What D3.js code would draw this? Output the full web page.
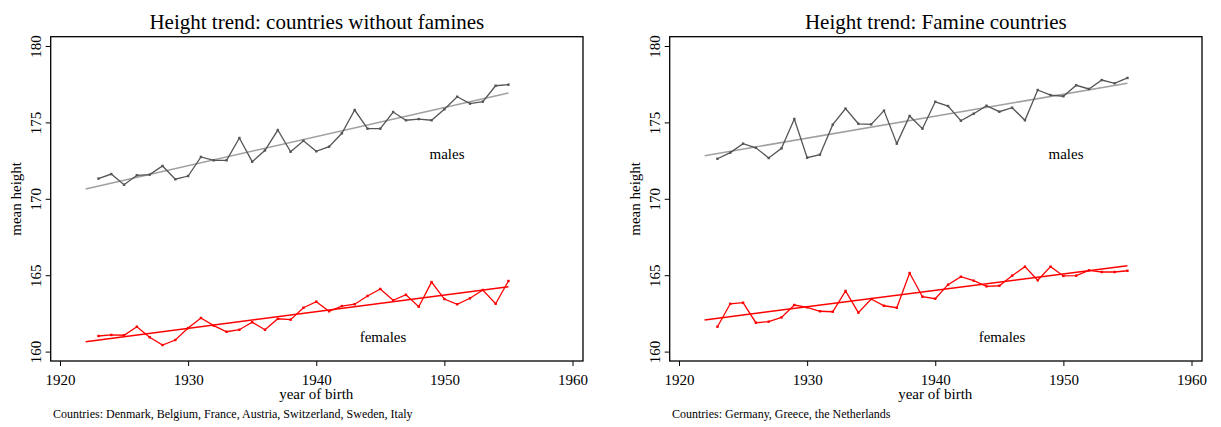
<!DOCTYPE html>
<html><head><meta charset="utf-8">
<script src="https://cdn.jsdelivr.net/npm/d3@7"></script>
<style>body{margin:0;background:#fff;} text{font-family:"Liberation Serif","Times New Roman",serif;}</style>
</head><body><svg id="c" width="1221" height="427"></svg>
<script>
const years = d3.range(1923, 1956);
const trendYears = [1922, 1955];
const xTicks = [1920, 1930, 1940, 1950, 1960];
const yTicks = [160, 165, 170, 175, 180];

const titles = ["Height trend: countries without famines", "Height trend: Famine countries"];
const captions = ["Countries: Denmark, Belgium, France, Austria, Switzerland, Sweden, Italy", "Countries: Germany, Greece, the Netherlands"];

const malesNoFamine = [171.32,171.62,170.92,171.54,171.58,172.15,171.28,171.49,172.74,172.52,172.52,173.98,172.43,173.17,174.50,173.08,173.80,173.11,173.41,174.29,175.81,174.59,174.59,175.68,175.14,175.22,175.14,175.86,176.68,176.23,176.36,177.40,177.47];
const femalesNoFamine = [161.02,161.09,161.07,161.63,160.94,160.43,160.76,161.54,162.20,161.70,161.30,161.43,161.92,161.43,162.15,162.09,162.87,163.27,162.64,162.98,163.10,163.64,164.10,163.36,163.72,162.94,164.55,163.44,163.10,163.49,164.03,163.13,164.62];
const maleTrendNoFamine = [170.64, 176.92];
const femaleTrendNoFamine = [160.65, 164.25];

const malesFamine = [172.62,173.02,173.61,173.34,172.67,173.30,175.22,172.69,172.89,174.85,175.90,174.91,174.87,175.77,173.61,175.42,174.59,176.35,176.07,175.11,175.57,176.09,175.70,175.96,175.14,177.12,176.79,176.71,177.43,177.19,177.77,177.56,177.91];
const femalesFamine = [161.63,163.13,163.20,161.89,161.96,162.24,163.05,162.90,162.64,162.61,163.97,162.55,163.44,163.00,162.87,165.14,163.59,163.46,164.38,164.90,164.64,164.27,164.31,164.97,165.56,164.67,165.56,164.95,164.97,165.32,165.21,165.21,165.29];
const maleTrendFamine = [172.82, 177.56];
const femaleTrendFamine = [162.07, 165.62];

const panels = [
  {dx: 0, title: titles[0], caption: captions[0], m: malesNoFamine, f: femalesNoFamine, mt: maleTrendNoFamine, ft: femaleTrendNoFamine, mlab: [447, 159], flab: [383, 342]},
  {dx: 619, title: titles[1], caption: captions[1], m: malesFamine, f: femalesFamine, mt: maleTrendFamine, ft: femaleTrendFamine, mlab: [1066, 159], flab: [1002, 342]}
];

const svg = d3.select("#c");
const L = 50.7, R = 583, T = 36.7, B = 361;

panels.forEach(p => {
  const g = svg.append("g").attr("transform", `translate(${p.dx},0)`);
  const x = d3.scaleLinear().domain([1920, 1960]).range([60, 572.5]);
  const y = d3.scaleLinear().domain([160, 180]).range([351.6, 46]);

  const xa = g.append("g").attr("transform", `translate(0,${B})`)
    .call(d3.axisBottom(x).tickValues(xTicks).tickFormat(d3.format("d")).tickSize(5).tickSizeOuter(0));
  xa.select(".domain").remove();
  xa.selectAll("line").attr("stroke", "#000").attr("stroke-width", 1);
  xa.selectAll("text").attr("font-size", 15).attr("fill", "#000").attr("dy", "1.05em");

  const ya = g.append("g").attr("transform", `translate(${L},0)`)
    .call(d3.axisLeft(y).tickValues(yTicks).tickFormat(d3.format("d")).tickSize(5).tickSizeOuter(0));
  ya.select(".domain").remove();
  ya.selectAll("line").attr("stroke", "#000").attr("stroke-width", 1);
  ya.selectAll("text").attr("font-size", 15).attr("fill", "#000")
    .attr("x", null).attr("dy", null)
    .attr("text-anchor", "middle")
    .attr("transform", "translate(-10,0) rotate(-90)");

  g.append("rect").attr("x", L).attr("y", T).attr("width", R - L).attr("height", B - T)
    .attr("fill", "none").attr("stroke", "#000").attr("stroke-width", 1.3);

  const line = d3.line().x((d, i) => x(years[i])).y(d => y(d));
  const tline = d3.line().x((d, i) => x(trendYears[i])).y(d => y(d));

  g.append("path").attr("d", tline(p.mt)).attr("fill", "none").attr("stroke", "#a0a0a0").attr("stroke-width", 1.5);
  g.append("path").attr("d", tline(p.ft)).attr("fill", "none").attr("stroke", "#ff0000").attr("stroke-width", 1.5);

  g.append("path").attr("d", line(p.m)).attr("fill", "none").attr("stroke", "#555555").attr("stroke-width", 1.3);
  g.selectAll(".mp").data(p.m).enter().append("rect")
    .attr("x", (d, i) => x(years[i]) - 1.2).attr("y", d => y(d) - 1.2).attr("width", 2.4).attr("height", 2.4).attr("fill", "#555555");
  g.append("path").attr("d", line(p.f)).attr("fill", "none").attr("stroke", "#ff0000").attr("stroke-width", 1.3);
  g.selectAll(".fp").data(p.f).enter().append("rect")
    .attr("x", (d, i) => x(years[i]) - 1.2).attr("y", d => y(d) - 1.2).attr("width", 2.4).attr("height", 2.4).attr("fill", "#ff0000");

  g.append("text").attr("x", (L + R) / 2).attr("y", 29).attr("text-anchor", "middle").attr("font-size", 21).text(p.title);
  g.append("text").attr("transform", `translate(21,${(T + B) / 2}) rotate(-90)`).attr("text-anchor", "middle").attr("font-size", 15).text("mean height");
  g.append("text").attr("x", x(1940)).attr("y", 399).attr("text-anchor", "middle").attr("font-size", 15).text("year of birth");
  g.append("text").attr("x", 53).attr("y", 418).attr("font-size", 12).text(p.caption);
  g.append("text").attr("x", p.mlab[0] - p.dx).attr("y", p.mlab[1]).attr("text-anchor", "middle").attr("font-size", 15).text("males");
  g.append("text").attr("x", p.flab[0] - p.dx).attr("y", p.flab[1]).attr("text-anchor", "middle").attr("font-size", 15).text("females");
});
</script></body></html>
